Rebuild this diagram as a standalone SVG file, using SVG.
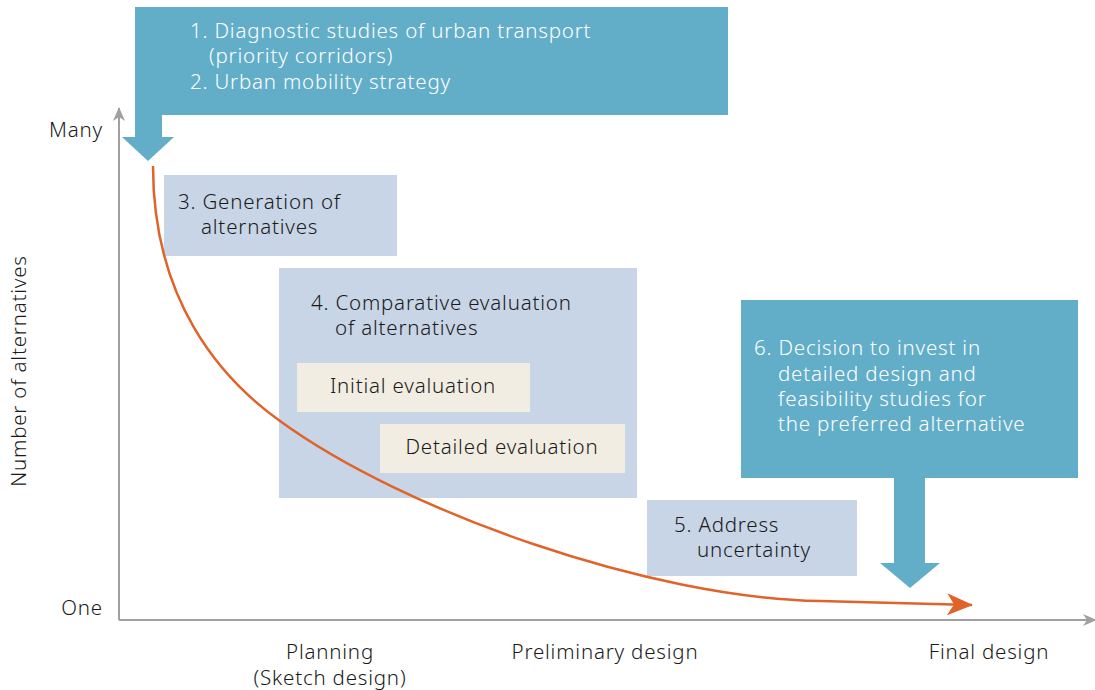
<svg xmlns="http://www.w3.org/2000/svg" width="1095" height="690" viewBox="0 0 1095 690">
<style>
text{font-family:"Noto Sans","Open Sans",sans-serif;font-size:20.5px;font-weight:300;letter-spacing:0.8px;fill:#1a1a1a}
.w{fill:#ffffff}
.dark{fill:#62aec9}
.light{fill:#c8d5e6}
.beige{fill:#f1ede2}
.axis{stroke:#a0a0a0;stroke-width:2;fill:none}
.curve{stroke:#e0632a;stroke-width:2.5;fill:none}
.mid{text-anchor:middle}
.end{text-anchor:end}
</style>
<defs>
<marker id="ga" markerWidth="14" markerHeight="12" refX="13" refY="6" orient="auto" markerUnits="userSpaceOnUse">
<path d="M0,0 L14,6 L0,12 L4,6 Z" fill="#a0a0a0"/>
</marker>
<marker id="oa" markerWidth="26" markerHeight="22" refX="25" refY="11" orient="auto" markerUnits="userSpaceOnUse">
<path d="M0,0 L26,11 L0,22 L7,11 Z" fill="#e0632a"/>
</marker>
</defs>
<g id="axes">
<line class="axis" x1="119" y1="620" x2="119" y2="108" marker-end="url(#ga)"/>
<line class="axis" x1="119" y1="620" x2="1096" y2="620" marker-end="url(#ga)"/>
<text class="end" x="103" y="137">Many</text>
<text class="end" x="103" y="615">One</text>
<text class="mid" transform="translate(26,371) rotate(-90)">Number of alternatives</text>
<text class="mid" x="330" y="659">Planning</text>
<text class="mid" x="330" y="685">(Sketch design)</text>
<text class="mid" x="605" y="659">Preliminary design</text>
<text class="mid" x="989" y="659">Final design</text>
</g>
<g id="node1">
<rect class="dark" x="135" y="7" width="593" height="108"/>
<path class="dark" d="M135,114 L162,114 L162,137 L174,137 L148,161 L122,137 L135,137 Z"/>
<text class="w" x="190" y="38">1. Diagnostic studies of urban transport</text>
<text class="w" x="209" y="63">(priority corridors)</text>
<text class="w" x="190" y="89">2. Urban mobility strategy</text>
</g>
<g id="node3">
<rect class="light" x="164" y="175" width="233" height="81"/>
<text x="178" y="209">3. Generation of</text>
<text x="201" y="234">alternatives</text>
</g>
<g id="node4">
<rect class="light" x="279" y="268" width="358" height="230"/>
<text x="311" y="310">4. Comparative evaluation</text>
<text x="335" y="335">of alternatives</text>
</g>
<g id="node4a">
<rect class="beige" x="297" y="363" width="233" height="49"/>
<text class="mid" x="413" y="393">Initial evaluation</text>
</g>
<g id="node4b">
<rect class="beige" x="380" y="424" width="245" height="49"/>
<text class="mid" x="502" y="454">Detailed evaluation</text>
</g>
<g id="node5">
<rect class="light" x="647" y="500" width="210" height="76"/>
<text x="674" y="532">5. Address</text>
<text x="697" y="557">uncertainty</text>
</g>
<g id="node6">
<rect class="dark" x="741" y="300" width="337" height="178"/>
<path class="dark" d="M894,477 L925,477 L925,563 L940,563 L910,588 L880,563 L894,563 Z"/>
<text class="w" x="754" y="355">6. Decision to invest in</text>
<text class="w" x="778" y="381">detailed design and</text>
<text class="w" x="778" y="406">feasibility studies for</text>
<text class="w" x="778" y="431">the preferred alternative</text>
</g>
<g id="connectors">
<path class="curve" d="M153,166 C153,300 220,378 280,421 C405,512 650,598 820,601 L972,605" marker-end="url(#oa)"/>
</g>
</svg>
